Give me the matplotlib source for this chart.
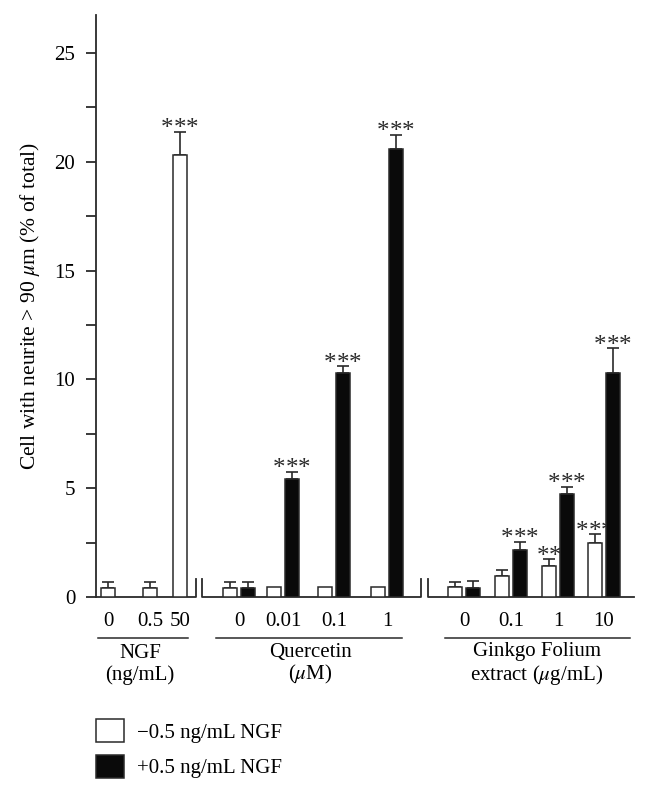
import matplotlib
matplotlib.use('Agg')
import matplotlib.pyplot as plt
from matplotlib.patches import Patch
from matplotlib.ticker import MultipleLocator

plt.rcParams['font.family'] = ['Liberation Serif', 'DejaVu Serif']
plt.rcParams['mathtext.fontset'] = 'stix'

# values (% of cells with neurite > 90 um)
ngf_doses = ['0', '0.5', '50']
ngf_minus = [0.41, 0.41, 20.3]
ngf_minus_err = [0.28, 0.28, 1.08]
ngf_minus_sig = ['', '', '***']

quer_doses = ['0', '0.01', '0.1', '1']
quer_minus = [0.41, 0.48, 0.48, 0.48]
quer_minus_err = [0.28, 0, 0, 0]
quer_minus_sig = ['', '', '', '']
quer_plus = [0.41, 5.42, 10.3, 20.6]
quer_plus_err = [0.28, 0.33, 0.3, 0.64]
quer_plus_sig = ['', '***', '***', '***']

gink_doses = ['0', '0.1', '1', '10']
gink_minus = [0.44, 0.95, 1.42, 2.5]
gink_minus_err = [0.25, 0.3, 0.32, 0.38]
gink_minus_sig = ['', '', '**', '***']
gink_plus = [0.41, 2.17, 4.72, 10.3]
gink_plus_err = [0.32, 0.36, 0.35, 1.14]
gink_plus_sig = ['', '***', '***', '***']

group_names = ['NGF\n(ng/mL)', 'Quercetin\n($\\mu$M)',
               'Ginkgo Folium\nextract ($\\mu$g/mL)']
legend_labels = ['\u22120.5 ng/mL NGF', '+0.5 ng/mL NGF']
ylabel = 'Cell with neurite > 90 $\\mu$m (% of total)'

# layout (x in axis units, 1 unit ~ 10 px)
ngf_x = [1.2, 5.4, 8.4]
quer_x = [14.3, 18.7, 23.8, 29.1]
gink_x = [36.8, 41.5, 46.2, 50.8]
group_x = [4.4, 21.4, 44.1]
underlines = [(0.15, 9.2), (12.0, 30.6), (34.9, 53.4)]
width = 1.35
off = 0.9
ink = '#2a2a2a'
fs = 15

fig = plt.figure(figsize=(6.5, 8.01), dpi=100)
ax = fig.add_axes([96/650, 1 - 597/801, 544/650, 582/801])
ax.set_xlim(0, 54.4)
ax.set_ylim(0, 26.75)


def draw_bars(xs, vals, errs, sigs, color):
    ax.bar(xs, vals, width, color=color, edgecolor=ink, linewidth=1.1, zorder=3)
    for x, v, e, s in zip(xs, vals, errs, sigs):
        if e > 0:
            ax.errorbar(x, v, yerr=[[0], [e]], fmt='none', ecolor=ink,
                        elinewidth=1.2, capsize=4, capthick=1.2, zorder=2)
        # significance stars, spaced out like the original
        n = len(s)
        for i in range(n):
            ax.annotate('*', (x, v + e), xytext=((i - (n - 1) / 2) * 9, -2.5),
                        textcoords='offset points', ha='center', va='baseline',
                        fontsize=18, color=ink)


draw_bars(ngf_x, ngf_minus, ngf_minus_err, ngf_minus_sig, 'white')
draw_bars([x - off for x in quer_x], quer_minus, quer_minus_err, quer_minus_sig, 'white')
draw_bars([x + off for x in quer_x], quer_plus, quer_plus_err, quer_plus_sig, '#0a0a0a')
draw_bars([x - off for x in gink_x], gink_minus, gink_minus_err, gink_minus_sig, 'white')
draw_bars([x + off for x in gink_x], gink_plus, gink_plus_err, gink_plus_sig, '#0a0a0a')

# broken x axis
h = 0.83
lw = 1.3
ax.plot([0, 10.0, 10.0], [0, 0, h], color=ink, lw=lw, clip_on=False)
ax.plot([10.6, 10.6, 32.5, 32.5], [h, 0, 0, h], color=ink, lw=lw, clip_on=False)
ax.plot([33.2, 33.2, 53.8], [h, 0, 0], color=ink, lw=lw, clip_on=False)

# axes styling
for side in ['top', 'right', 'bottom']:
    ax.spines[side].set_visible(False)
ax.spines['left'].set_color(ink)
ax.spines['left'].set_linewidth(lw)
ax.yaxis.set_major_locator(MultipleLocator(5))
ax.yaxis.set_minor_locator(MultipleLocator(2.5))
ax.tick_params(axis='y', which='both', length=7, width=lw, color=ink, labelsize=fs, pad=8)
ax.set_ylabel(ylabel, fontsize=15.5)
ax.yaxis.set_label_coords(-0.1, 0.5)

ax.set_xticks(ngf_x + quer_x + gink_x)
ax.set_xticklabels(ngf_doses + quer_doses + gink_doses)
ax.tick_params(axis='x', length=0, labelsize=fs, pad=11)

# group underlines and names
tr = ax.get_xaxis_transform()
for (a, b), gx, name in zip(underlines, group_x, group_names):
    ax.plot([a, b], [-0.0696, -0.0696], transform=tr, color=ink, lw=1.1, clip_on=False)
    ax.text(gx, -0.116, name, transform=tr, ha='center', va='center',
            fontsize=fs, linespacing=1.1, multialignment='center')

handles = [Patch(facecolor='white', edgecolor=ink, linewidth=1.1),
           Patch(facecolor='#0a0a0a', edgecolor=ink, linewidth=1.1)]
fig.legend(handles, legend_labels, loc='upper left', bbox_to_anchor=(96/650, 1 - 719/801),
           frameon=False, fontsize=fs, handlelength=1.35, handleheight=1.35,
           labelspacing=0.58, handletextpad=0.63, borderpad=0, borderaxespad=0)

fig.savefig('out.png', dpi=100)
